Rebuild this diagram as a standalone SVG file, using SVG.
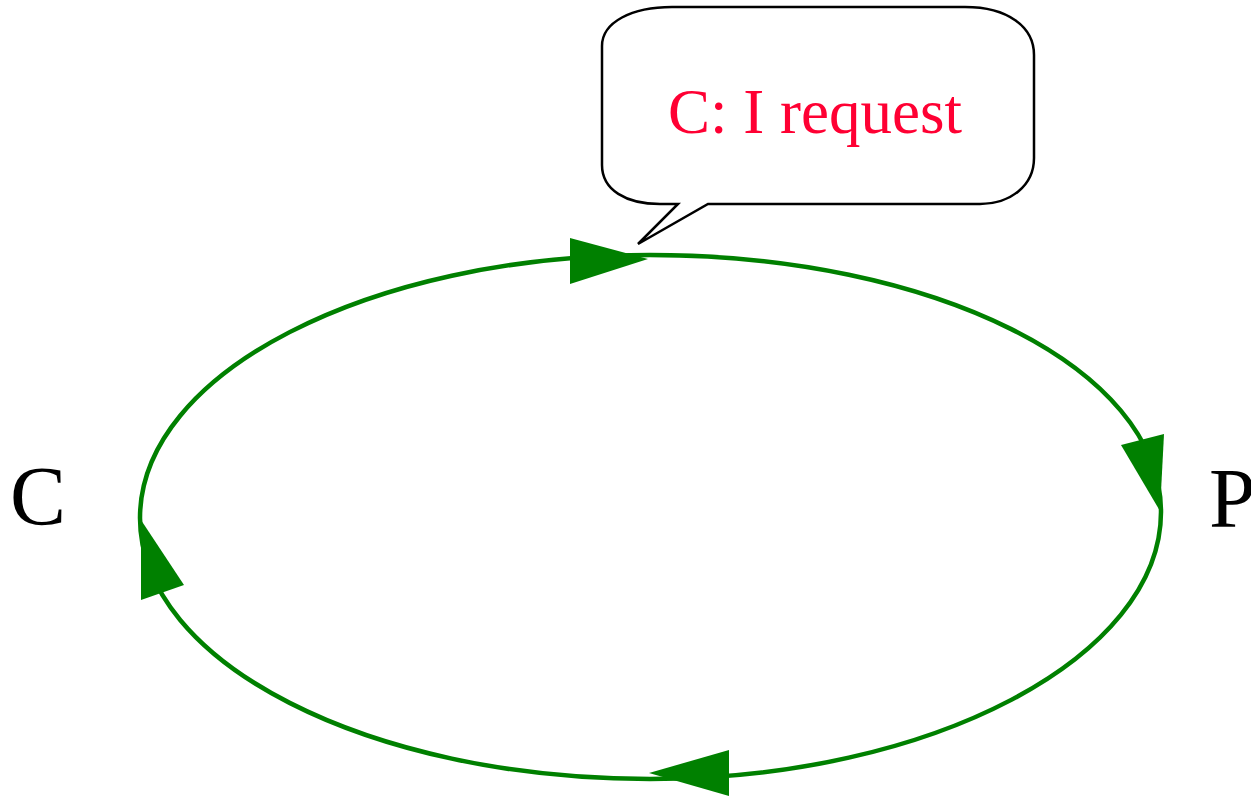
<svg xmlns="http://www.w3.org/2000/svg" width="1251" height="798" viewBox="0 0 1251 798">
<style>
.lbl{font-family:"Liberation Serif","Times New Roman",serif;font-size:84px;fill:#000}
.arc{fill:none;stroke:#008000;stroke-width:4.5}
.head{fill:#008000;stroke:none}
.bubble{fill:#fff;stroke:#000;stroke-width:2.5;stroke-linejoin:miter}
.say{font-family:"Liberation Serif","Times New Roman",serif;font-size:63px;fill:#ff0033}
</style>
<rect width="1251" height="798" fill="#fff"/>
<g id="connectors">
<path class="arc" d="M140,518 C140,373 369,255 650,255 C932,255 1161,367 1161,512"/>
<path class="arc" d="M1161,512 C1161,657 932,779 650,779 C369,779 140,663 140,518"/>
<polygon class="head" points="648,259 570,238 570,284"/>
<polygon class="head" points="1160,511 1121,445 1164,434"/>
<polygon class="head" points="649,773 729,750 729,796"/>
<polygon class="head" points="141,520 141,600 184,585"/>
</g>
<g id="node-C"><text class="lbl" x="10" y="525">C</text></g>
<g id="node-P"><text class="lbl" x="1209" y="527">P</text></g>
<g id="callout">
<path class="bubble" d="M672,7 L965,7 C1008,7 1034,27 1034,55 L1034,158 C1034,186 1010,204 980,204 L708,204 L638,244 L678,204 L660,204 C626,204 602,190 602,165 L602,46 C602,22 632,7 672,7 Z"/>
<text class="say" x="815" y="133" text-anchor="middle">C: I request</text>
</g>
</svg>
